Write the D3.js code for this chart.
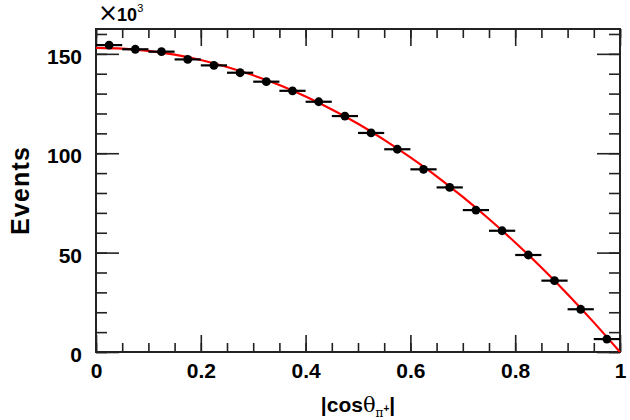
<!DOCTYPE html>
<html>
<head>
<meta charset="utf-8">
<script src="https://cdn.jsdelivr.net/npm/d3@7"></script>
<style>
  html, body { margin: 0; padding: 0; background: #fff; }
  svg { display: block; }
  text { font-family: "Liberation Sans", Arial, Helvetica, sans-serif; fill: #000; }
</style>
</head>
<body>
<svg id="chart" width="630" height="420"></svg>
<script>
// ---- data (events in units of 10^3) ----
const binCenters = [0.025, 0.075, 0.125, 0.175, 0.225, 0.275, 0.325, 0.375, 0.425, 0.475,
                    0.525, 0.575, 0.625, 0.675, 0.725, 0.775, 0.825, 0.875, 0.925, 0.975];
const binHalfWidth = 0.025;
const events = [154.4, 152.3, 151.1, 147.2, 144.2, 140.5, 136.0, 131.4, 125.9, 118.7,
                110.2, 102.0, 91.9, 82.8, 71.4, 61.0, 48.8, 35.9, 21.5, 6.5];
const fitX = [0, 0.05, 0.1, 0.15, 0.2, 0.25, 0.3, 0.35, 0.4, 0.45, 0.5,
              0.55, 0.6, 0.65, 0.7, 0.75, 0.8, 0.85, 0.9, 0.95, 1.0];
const fitY = [153.0, 152.6, 151.5, 149.6, 146.9, 143.4, 139.2, 134.3, 128.5, 122.0, 114.8,
              106.7, 97.9, 88.4, 78.0, 66.9, 55.1, 42.5, 29.1, 14.9, 0.0];
const xMajorTicks = [0, 0.2, 0.4, 0.6, 0.8, 1];
const xTickLabels = ["0", "0.2", "0.4", "0.6", "0.8", "1"];
const xMinorTicks = d3.range(0, 1.0001, 0.05);
const yMajorTicks = [0, 50, 100, 150];
const yTickLabels = ["0", "50", "100", "150"];
const yMinorTicks = d3.range(0, 161, 10);

// ---- layout ----
const W = 630, H = 420;
const m = { left: 96, top: 29, right: 10, bottom: 68 };
const iw = W - m.left - m.right, ih = H - m.top - m.bottom;

const svg = d3.select("#chart");
const g = svg.append("g").attr("transform", `translate(${m.left},${m.top})`);

const x = d3.scaleLinear().domain([0, 1]).range([0, iw]);
const y = d3.scaleLinear().domain([0, 162.5]).range([ih, 0]);

const axisColor = "#222";

function styleAxis(sel) {
  sel.select(".domain").remove();
  sel.selectAll(".tick line").attr("stroke", axisColor).attr("stroke-width", 1.6);
}

// bottom axis: minor then major ticks (inward)
g.append("g").attr("transform", `translate(0,${ih})`)
  .call(d3.axisBottom(x).tickValues(xMinorTicks).tickSize(-9).tickFormat(""))
  .call(styleAxis);
g.append("g").attr("transform", `translate(0,${ih})`)
  .call(d3.axisBottom(x).tickValues(xMajorTicks).tickSize(-17)
        .tickFormat((d, i) => xTickLabels[i]))
  .call(styleAxis)
  .call(s => s.selectAll("text").attr("font-size", 21).attr("font-weight", "bold")
        .attr("dy", "0").attr("y", 26));
// top axis
g.append("g")
  .call(d3.axisTop(x).tickValues(xMinorTicks).tickSize(-9).tickFormat(""))
  .call(styleAxis);
g.append("g")
  .call(d3.axisTop(x).tickValues(xMajorTicks).tickSize(-17).tickFormat(""))
  .call(styleAxis);

// left axis
g.append("g")
  .call(d3.axisLeft(y).tickValues(yMinorTicks).tickSize(-11).tickFormat(""))
  .call(styleAxis);
g.append("g")
  .call(d3.axisLeft(y).tickValues(yMajorTicks).tickSize(-23)
        .tickFormat((d, i) => yTickLabels[i]))
  .call(styleAxis)
  .call(s => s.selectAll("text").attr("font-size", 21).attr("font-weight", "bold")
        .attr("x", -14).attr("dy", "0.45em"));
// right axis
g.append("g").attr("transform", `translate(${iw},0)`)
  .call(d3.axisRight(y).tickValues(yMinorTicks).tickSize(-11).tickFormat(""))
  .call(styleAxis);
g.append("g").attr("transform", `translate(${iw},0)`)
  .call(d3.axisRight(y).tickValues(yMajorTicks).tickSize(-23).tickFormat(""))
  .call(styleAxis);

// frame
g.append("rect").attr("x", 0).attr("y", 0).attr("width", iw).attr("height", ih)
  .attr("fill", "none").attr("stroke", axisColor).attr("stroke-width", 2);

// fit curve
const fitData = fitX.map((v, i) => [v, fitY[i]]);
g.append("path").datum(fitData)
  .attr("fill", "none").attr("stroke", "#ff0000").attr("stroke-width", 2.2)
  .attr("d", d3.line().x(d => x(d[0])).y(d => y(d[1])).curve(d3.curveMonotoneX));

// data points with horizontal error bars
const pts = binCenters.map((c, i) => ({ c, v: events[i] }));
g.append("g").selectAll("line").data(pts).join("line")
  .attr("x1", d => x(d.c - binHalfWidth)).attr("x2", d => x(d.c + binHalfWidth))
  .attr("y1", d => y(d.v)).attr("y2", d => y(d.v))
  .attr("stroke", "#000").attr("stroke-width", 2.2);
g.append("g").selectAll("circle").data(pts).join("circle")
  .attr("cx", d => x(d.c)).attr("cy", d => y(d.v)).attr("r", 4.4)
  .attr("fill", "#000");

// multiplier label
const mult = svg.append("text").attr("x", 98).attr("y", 21).attr("font-size", 18);
mult.append("tspan").attr("font-size", 24).attr("font-family", "DejaVu Sans, sans-serif")
  .attr("font-weight", "normal").text("×");
mult.append("tspan").attr("font-weight", "bold").attr("dx", -1).text("10");
mult.append("tspan").attr("font-size", 11).attr("dy", -9).text("3");

// y title
svg.append("text")
  .attr("transform", "translate(29,191) rotate(-90)")
  .attr("text-anchor", "middle")
  .attr("font-size", 25).attr("font-weight", "bold")
  .attr("textLength", 88).attr("lengthAdjust", "spacing")
  .text("Events");

// x title: |cosθ_{π+}|
const xt = svg.append("text").attr("x", 358).attr("y", 412)
  .attr("text-anchor", "middle").attr("font-size", 21).attr("font-weight", "bold");
xt.append("tspan").text("|cos");
xt.append("tspan").attr("font-weight", "normal").attr("font-family", "DejaVu Serif, serif").text("θ");
xt.append("tspan").attr("font-size", 12).attr("font-weight", "normal").attr("dy", 5).attr("font-family", "DejaVu Serif, serif").text("π");
xt.append("tspan").attr("font-size", 10).attr("dy", -5).text("+");
xt.append("tspan").attr("dy", 0).text("|");
</script>
</body>
</html>
